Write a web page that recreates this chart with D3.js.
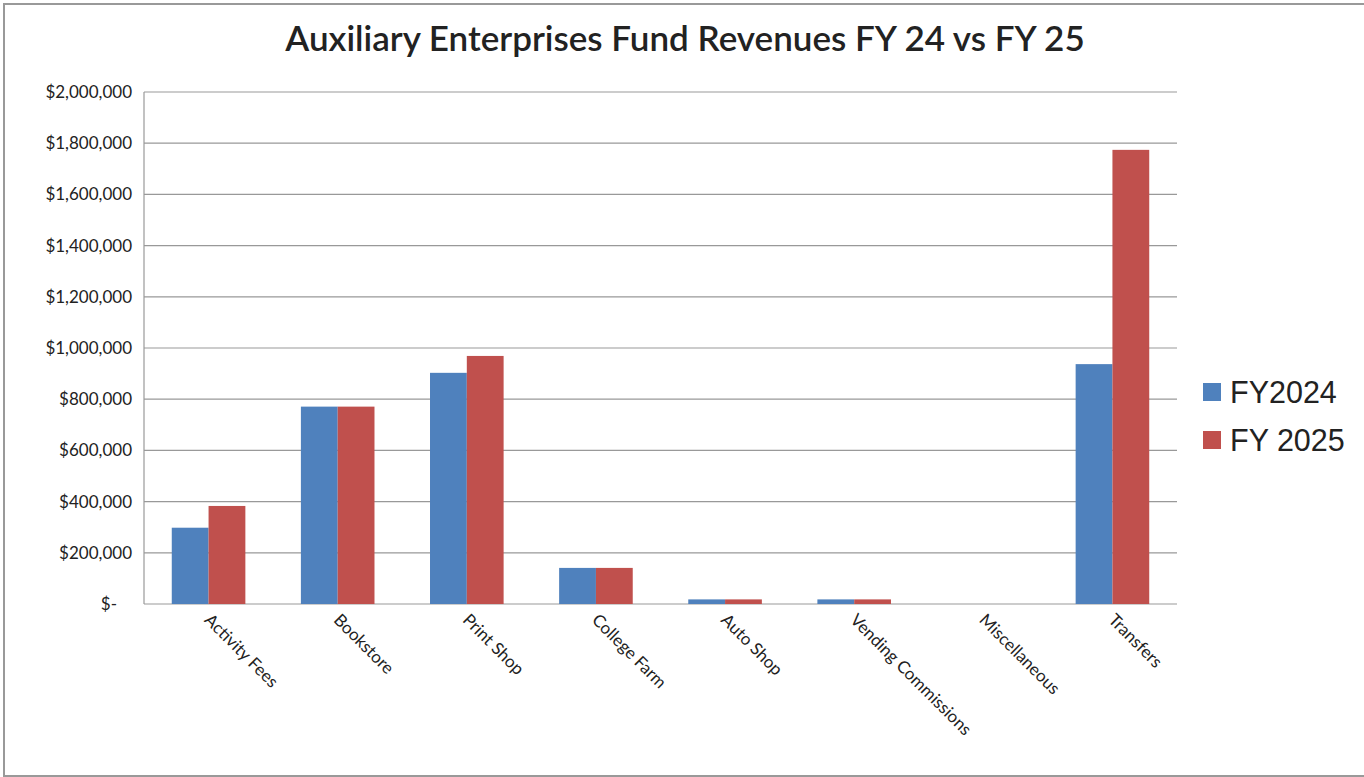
<!DOCTYPE html>
<html>
<head>
<meta charset="utf-8">
<script src="https://cdn.jsdelivr.net/npm/d3@7"></script>
<style>
  body { margin: 0; background: #fff; }
  svg { display: block; }
</style>
</head>
<body>
<svg id="chart"></svg>
<script>
// chart data
var categories = ["Activity Fees", "Bookstore", "Print Shop", "College Farm",
    "Auto Shop", "Vending Commissions", "Miscellaneous", "Transfers"];
var seriesNames = ["FY2024", "FY 2025"];
var fy2024 = [298000, 771000, 903000, 141000, 18000, 18000, 0, 937000];
var fy2025 = [383000, 771000, 969000, 141000, 18000, 18000, 0, 1774000];
var yTicks = [0, 200000, 400000, 600000, 800000, 1000000, 1200000, 1400000, 1600000, 1800000, 2000000];
var colors = ["#4f81bd", "#c0504d"];

var width = 1364;
var height = 777;
var margin = {top: 92, right: 187, bottom: 173, left: 144};

var svg = d3.select('#chart')
    .attr('width', width)
    .attr('height', height);

// outer frame
svg.append('rect')
    .attr('x', 4).attr('y', 4)
    .attr('width', width + 10).attr('height', 772)
    .style('fill', 'none')
    .style('stroke', '#999')
    .style('stroke-width', 2);

svg.append('text')
    .attr('x', 685).attr('y', 51)
    .attr('text-anchor', 'middle')
    .style('font-family', 'Lato, "Open Sans", sans-serif')
    .style('font-size', '35px')
    .style('font-weight', 600)
    .style('fill', '#222')
    .text('Auxiliary Enterprises Fund Revenues FY 24 vs FY 25');

var x = d3.scaleBand()
    .domain(categories)
    .range([margin.left, width - margin.right])
    .paddingInner(0.43)
    .paddingOuter(0.215);

var x1 = d3.scaleBand()
    .domain(seriesNames)
    .range([0, x.bandwidth()]);

var y = d3.scaleLinear()
    .domain([0, 2000000])
    .range([height - margin.bottom, margin.top]);

// gridlines
svg.append('g')
    .selectAll('line')
    .data(yTicks)
    .enter().append('line')
    .attr('x1', margin.left).attr('x2', width - margin.right)
    .attr('y1', d => y(d)).attr('y2', d => y(d))
    .style('stroke', '#999')
    .style('stroke-width', 1.2);

// y axis line
svg.append('line')
    .attr('x1', margin.left).attr('x2', margin.left)
    .attr('y1', y(2000000)).attr('y2', y(0))
    .style('stroke', '#999')
    .style('stroke-width', 1.2);

var fmt = d3.format(',');
svg.append('g')
    .selectAll('text')
    .data(yTicks)
    .enter().append('text')
    .attr('x', d => d === 0 ? 117 : 132)
    .attr('y', d => y(d) + 6)
    .attr('text-anchor', 'end')
    .style('font-family', 'Lato, "Open Sans", sans-serif')
    .style('font-size', '17px')
    .style('fill', '#222')
    .text(d => d === 0 ? '$-' : '$' + fmt(d));

// bars
var rows = categories.map((c, i) => ({cat: c, values: [fy2024[i], fy2025[i]]}));
var groups = svg.append('g')
    .selectAll('g')
    .data(rows)
    .enter().append('g')
    .attr('transform', d => 'translate(' + x(d.cat) + ',0)');

groups.selectAll('rect')
    .data(d => d.values.map((v, j) => ({name: seriesNames[j], value: v, idx: j})))
    .enter().append('rect')
    .filter(d => d.value > 0)
    .attr('x', d => x1(d.name))
    .attr('width', x1.bandwidth())
    .attr('y', d => y(d.value))
    .attr('height', d => y(0) - y(d.value))
    .style('fill', d => colors[d.idx]);

// x labels, rotated
svg.append('g')
    .selectAll('text')
    .data(categories)
    .enter().append('text')
    .attr('transform', d => 'translate(' + (x(d) + x.bandwidth() / 2 - 5) + ',' + (y(0) + 17) + ') rotate(45)')
    .attr('text-anchor', 'start')
    .style('font-family', 'Lato, "Open Sans", sans-serif')
    .style('font-size', '17px')
    .style('fill', '#222')
    .text(d => d);

// legend
var legend = svg.append('g')
    .selectAll('g')
    .data(seriesNames)
    .enter().append('g')
    .attr('transform', (d, i) => 'translate(1203,' + (383 + i * 48) + ')');

legend.append('rect')
    .attr('width', 18).attr('height', 18)
    .style('fill', (d, i) => colors[i]);

legend.append('text')
    .attr('x', 27).attr('y', 20)
    .style('font-family', '"Liberation Sans", Arial, sans-serif')
    .style('font-size', '30.5px')
    .style('fill', '#222')
    .text(d => d);
</script>
</body>
</html>
